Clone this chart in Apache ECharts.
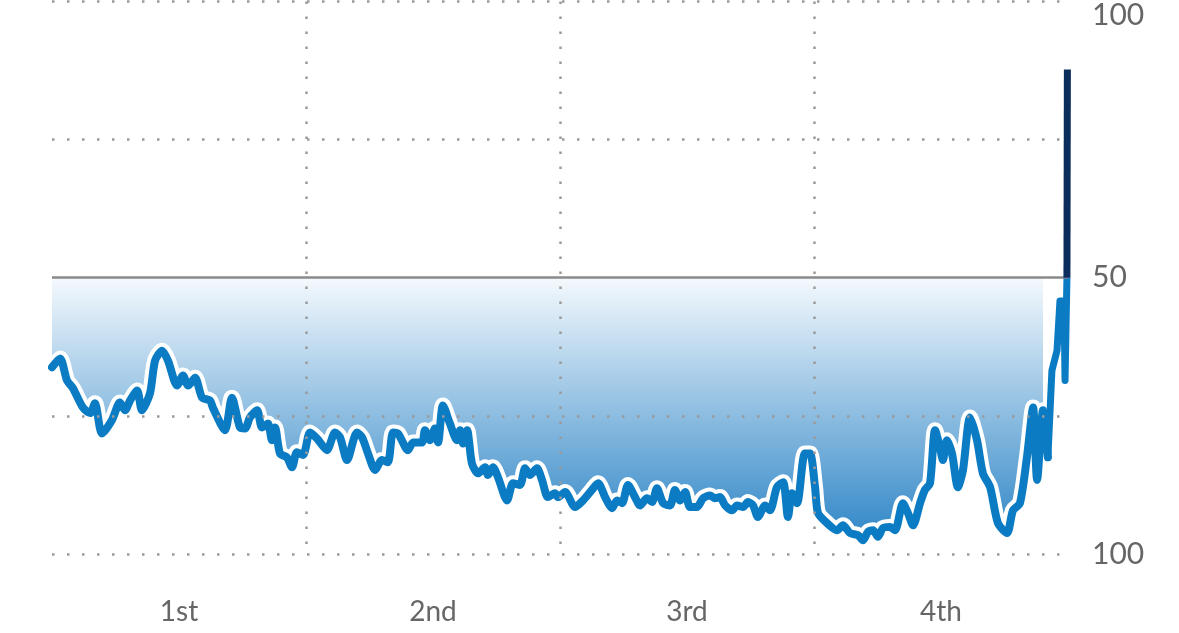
<!DOCTYPE html>
<html>
<head>
<meta charset="utf-8">
<script src="https://cdn.jsdelivr.net/npm/echarts@6/dist/echarts.min.js"></script>
<style>
html,body{margin:0;padding:0;background:#fff;}
#chart{width:1179px;height:633px;}
</style>
</head>
<body>
<div id="chart"></div>
<script>
// Game clock in minutes elapsed (4 quarters x 12 min)
const minutes = [
  0.00,0.38,0.71,0.99,1.46,1.80,2.03,2.36,2.83,3.21,3.45,3.69,4.02,4.25,4.63,4.87,5.20,5.48,5.91,6.19,
  6.43,6.76,7.09,7.46,7.61,8.17,8.50,8.88,9.12,9.35,9.69,9.92,10.20,10.39,10.54,10.77,11.10,11.34,11.57,11.86,
  12.19,12.52,12.99,13.37,13.61,13.94,14.41,14.65,14.93,15.26,15.59,15.87,16.11,16.35,16.82,17.06,17.48,17.62,17.86,18.09,
  18.24,18.47,18.80,19.13,19.28,19.42,19.61,19.84,20.13,20.46,20.60,20.83,21.07,21.50,21.78,22.11,22.35,22.58,22.91,23.15,
  23.43,23.76,23.91,24.24,24.71,25.09,25.51,25.80,26.13,26.46,26.69,26.93,27.21,27.54,27.78,28.11,28.35,28.58,28.87,29.20,
  29.43,29.67,29.91,30.14,30.47,30.76,31.09,31.32,31.56,31.80,32.13,32.36,32.65,32.88,33.12,33.35,33.69,33.92,34.25,34.54,
  34.77,34.96,35.20,35.57,35.81,36.05,36.19,36.61,37.09,37.37,37.70,38.08,38.31,38.55,38.79,39.02,39.26,39.59,39.83,40.20,
  40.44,40.68,41.01,41.24,41.48,41.72,41.95,42.09,42.28,42.52,42.80,43.04,43.37,43.70,43.98,44.32,44.69,45.12,45.40,45.73,
  46.06,46.35,46.54,46.82,47.05,47.24,47.48,47.62,47.81,47.86,47.95
];
// Win probability (%) of the team shown in the upper half
const winProb = [
  33.8,35.4,31.4,30.0,26.5,25.5,27.3,21.8,24.2,27.4,26.0,27.8,29.6,26.0,29.1,35.0,36.8,35.0,30.5,32.3,
  30.5,31.9,28.3,27.8,26.4,22.4,28.3,22.9,22.7,24.7,26.0,22.9,23.6,20.6,22.9,18.2,17.5,15.7,18.4,17.9,
  22.0,20.9,18.8,22.0,21.1,17.0,22.0,21.1,18.2,15.2,17.0,16.6,22.0,21.8,18.8,20.2,20.2,22.4,20.6,22.7,
  20.2,26.9,23.6,20.6,22.4,20.0,22.4,16.4,14.6,15.7,14.3,15.7,13.9,9.7,12.8,12.5,15.5,14.3,15.5,13.4,
  10.3,11.0,10.3,11.2,8.5,9.7,11.6,12.8,10.3,8.3,9.7,9.2,12.5,10.3,8.8,10.1,9.4,11.9,9.2,8.8,
  11.6,9.7,11.2,8.5,8.5,10.1,10.6,10.1,10.3,8.8,7.9,8.8,8.5,9.4,8.8,6.7,8.8,7.9,12.1,13.0,
  6.7,11.0,9.2,18.2,18.2,12.1,7.4,5.6,4.3,5.2,3.8,3.4,2.5,4.0,4.3,3.1,4.7,4.9,4.3,9.2,
  7.4,5.2,9.2,11.6,12.8,22.4,19.3,17.0,20.6,18.2,12.1,15.2,24.7,20.6,14.6,12.1,5.6,3.8,7.9,9.2,
  17.5,26.5,13.4,26.0,17.5,33.2,36.8,45.8,45.8,31.4,50.0
];
// Final jump above the 50% line
const finalMinutes = [47.95, 47.97];
const finalProb = [50.0, 87.7];

const quarters = ['1st', '2nd', '3rd', '4th'];
const yTickValues = [0, 50, 100];

const pts = minutes.map((m, i) => [m, winProb[i]]);
const fillPts = pts.slice(0, 164);
const mainPts = pts.slice(0, 165);
const tailPts = pts.slice(164);
const finalPts = finalMinutes.map((m, i) => [m, finalProb[i]]);

const FONT = 'Lato';
const GRID_COLOR = '#9a9a9a';
const SMOOTH = 0.25;

const chart = echarts.init(document.getElementById('chart'), null, {renderer: 'canvas'});
chart.setOption({
  animation: false,
  backgroundColor: '#fff',
  grid: {left: 52, right: 111, top: 0, bottom: 79, containLabel: false},
  xAxis: [
    {
      type: 'value', min: 0, max: 48, interval: 12, z: 10,
      axisLine: {show: false}, axisTick: {show: false}, axisLabel: {show: false},
      splitLine: {show: true, showMinLine: false, showMaxLine: false,
        lineStyle: {color: GRID_COLOR, width: 2.5, type: [2.5, 12.5]}}
    },
    {
      type: 'category', data: quarters, boundaryGap: true, position: 'bottom',
      axisLine: {show: false}, axisTick: {show: false}, splitLine: {show: false},
      axisLabel: {fontFamily: FONT, fontSize: 28, color: '#666', margin: 44}
    }
  ],
  yAxis: {
    type: 'value', min: 0, max: 100, interval: 25, position: 'right', z: 10,
    axisLine: {show: false}, axisTick: {show: false},
    splitLine: {show: true,
      lineStyle: {color: [GRID_COLOR, GRID_COLOR, 'rgba(0,0,0,0)', GRID_COLOR, GRID_COLOR], width: 2.5, type: [2.5, 12.5]}},
    axisLabel: {
      margin: 24, fontFamily: FONT, fontSize: 30, color: '#666',
      formatter: v => {
        if (yTickValues.indexOf(v) < 0) return '';
        const lbl = String(v >= 50 ? v : 100 - v);
        return v === 100 ? '{t|' + lbl + '}' : lbl;
      },
      rich: {t: {fontFamily: FONT, fontSize: 30, color: '#666', padding: [27, 0, 0, 0]}}
    }
  },
  series: [
    {
      type: 'line', data: fillPts, showSymbol: false, z: 1, silent: true, smooth: SMOOTH,
      lineStyle: {width: 0},
      areaStyle: {origin: 50, opacity: 1,
        color: new echarts.graphic.LinearGradient(0, 0, 0, 1, [
          {offset: 0, color: '#f4f9fd'},
          {offset: 1, color: '#2f86c7'}
        ])}
    },
    {
      type: 'line', data: mainPts, showSymbol: false, z: 3, silent: true, smooth: SMOOTH,
      lineStyle: {color: '#ffffff', width: 16, cap: 'round', join: 'round'},
      markLine: {
        silent: true, symbol: ['none', 'none'], label: {show: false},
        lineStyle: {type: 'solid', color: '#8a8a8a', width: 2.5},
        data: [{yAxis: 50}]
      }
    },
    {
      type: 'line', data: mainPts, showSymbol: false, z: 4, silent: true, smooth: SMOOTH,
      lineStyle: {color: '#0b7cc4', width: 8, cap: 'round', join: 'round'}
    },
    {
      type: 'line', data: tailPts, showSymbol: false, z: 4, silent: true,
      lineStyle: {color: '#0b7cc4', width: 7, cap: 'butt', join: 'round'}
    },
    {
      type: 'line', data: finalPts, showSymbol: false, z: 5, silent: true,
      lineStyle: {color: '#0b2d5c', width: 7, cap: 'butt'}
    }
  ]
});
</script>
</body>
</html>
